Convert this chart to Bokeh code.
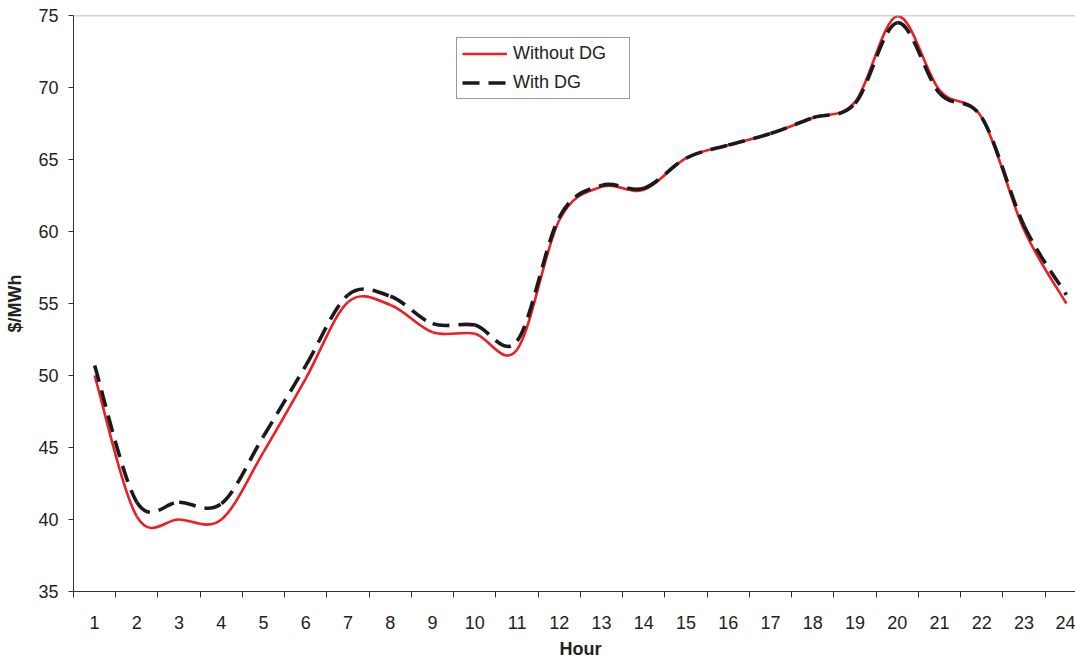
import numpy as np
from bokeh.plotting import figure
from bokeh.models import FixedTicker, Range1d, Span, Legend, LegendItem, Title
from bokeh.embed import file_html
from bokeh.resources import INLINE

# ---------------- data ----------------
hours = list(range(1, 25))
hour_labels = [str(h) for h in hours]
without_dg = [50.0, 40.2, 40.0, 40.0, 44.7, 49.8, 55.1, 54.9, 53.0, 52.9, 51.8, 60.8,
              63.1, 62.9, 65.1, 66.0, 66.8, 67.9, 69.0, 74.95, 69.8, 67.9, 60.1, 55.0]
with_dg = [50.7, 41.2, 41.2, 41.1, 45.8, 50.7, 55.6, 55.5, 53.6, 53.5, 52.4, 61.0,
           63.2, 63.0, 65.1, 66.0, 66.8, 67.9, 68.9, 74.5, 69.6, 67.9, 60.4, 55.6]
y_ticks = [35, 40, 45, 50, 55, 60, 65, 70, 75]

RED = "#ee1c25"
BLACK = "#1a1a1a"
FONT = "Liberation Sans"
TXT = "#222222"


def smooth_segments(xs, ys):
    """Cubic Bezier control points (Catmull-Rom style smoothing, as in a smoothed line chart)."""
    xs = np.asarray(xs, float)
    ys = np.asarray(ys, float)
    xp = np.concatenate([[xs[0]], xs, [xs[-1]]])
    yp = np.concatenate([[ys[0]], ys, [ys[-1]]])
    n = len(xs) - 1
    x0, y0 = xs[:-1], ys[:-1]
    x1, y1 = xs[1:], ys[1:]
    cx0 = x0 + (xp[2:n + 2] - xp[0:n]) / 6.0
    cy0 = y0 + (yp[2:n + 2] - yp[0:n]) / 6.0
    cx1 = x1 - (xp[3:n + 3] - xp[1:n + 1]) / 6.0
    cy1 = y1 - (yp[3:n + 3] - yp[1:n + 1]) / 6.0
    return dict(x0=x0, y0=y0, x1=x1, y1=y1, cx0=cx0, cy0=cy0, cx1=cx1, cy1=cy1)


p = figure(width=1075, height=663,
           x_range=Range1d(0.5, 24.216), y_range=Range1d(35, 75),
           output_backend="svg", toolbar_location=None,
           min_border_left=73, min_border_right=0, min_border_top=15, min_border_bottom=71)
p.outline_line_color = None
p.background_fill_color = "white"
p.border_fill_color = "white"
p.xgrid.visible = False
p.ygrid.visible = False

# top border of plot area
p.add_layout(Span(location=75, dimension="width", line_color="#a6a6a6", line_width=1.5))

r_red = p.bezier(**smooth_segments(hours, without_dg), line_color=RED, line_width=2.6)
r_blk = p.bezier(**smooth_segments(hours, with_dg), line_color=BLACK, line_width=3.6,
                 line_dash="17 9")

# x axis: labels at category centers, tick marks between categories
xa = p.xaxis[0]
xa.ticker = FixedTicker(ticks=hours, minor_ticks=[h - 0.5 for h in hours] + [24.5])
xa.major_label_overrides = {h: lab for h, lab in zip(hours, hour_labels)}
xa.major_tick_out = 0
xa.major_tick_in = 0
xa.minor_tick_out = 6
xa.minor_tick_in = 0
xa.minor_tick_line_color = "#333333"
xa.axis_line_color = "#333333"
xa.major_label_standoff = 18
xa.major_label_text_font = FONT
xa.major_label_text_font_size = "18px"
xa.major_label_text_color = TXT

ya = p.yaxis[0]
ya.ticker = FixedTicker(ticks=y_ticks)
ya.major_tick_out = 5
ya.major_tick_in = 0
ya.minor_tick_out = 0
ya.minor_tick_in = 0
ya.major_tick_line_color = "#333333"
ya.axis_line_color = "#333333"
ya.major_label_standoff = 10
ya.major_label_text_font = FONT
ya.major_label_text_font_size = "18px"
ya.major_label_text_color = TXT
ya.axis_label = "$/MWh"
ya.axis_label_text_font = FONT
ya.axis_label_text_font_size = "18px"
ya.axis_label_text_font_style = "bold"
ya.axis_label_text_color = TXT
ya.axis_label_standoff = 10

# x axis title, below the tick labels; placed at the centre of the full 24-hour span
p.add_layout(Title(text="Hour", align="left", offset=486, standoff=10,
                   vertical_align="bottom",
                   text_font=FONT, text_font_size="18px", text_font_style="bold",
                   text_color=TXT), "below")

legend = Legend(items=[LegendItem(label="Without DG", renderers=[r_red]),
                       LegendItem(label="With DG", renderers=[r_blk])],
                location=(383, 492), orientation="vertical",
                padding=5, spacing=8, margin=0,
                glyph_width=45, glyph_height=21, label_height=21, label_width=111,
                label_standoff=6,
                border_line_color="#333333", border_line_width=1,
                background_fill_color="white", background_fill_alpha=1.0,
                label_text_font=FONT, label_text_font_size="18px", label_text_color=TXT)
p.add_layout(legend)

open("out.html", "w").write(file_html(p, INLINE))
